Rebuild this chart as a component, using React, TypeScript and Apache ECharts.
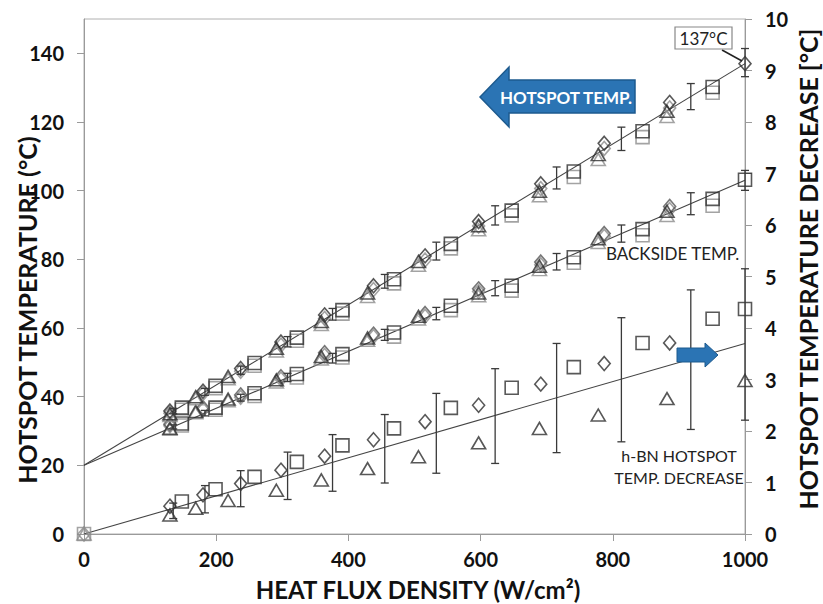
import React, { useEffect, useRef } from "react";
import * as echarts from "echarts";

// ---------- data ----------
const xTicks = [0, 200, 400, 600, 800, 1000];

// heat flux positions of each marker family
const qSquare = [148, 199, 258, 322, 391, 469, 555, 647, 741, 845, 951];
const qDiamond = [130, 180, 237, 298, 364, 438, 516, 597, 691, 787, 886];
const qTriangle = [130, 169, 218, 291, 359, 429, 506, 597, 689, 778, 882];

// hotspot temperature (left axis)
const hotSqBlack = [36.8, 43.2, 49.8, 57.2, 65.2, 74.2, 84.5, 94.2, 105.6, 117.3, 130.2];
const hotSqGray = [36.2, 42.5, 49.0, 56.3, 64.2, 73.0, 83.2, 92.8, 104.0, 115.6, 128.5];
const qHotDiBlack = [130, 180, 237, 298, 364, 438, 516, 597, 691, 787, 886, 1000];
const hotDiBlack = [35.8, 41.6, 48.2, 55.9, 63.8, 72.3, 81.0, 91.0, 102.0, 113.8, 125.7, 137.0];
const hotDiGray = [35.2, 40.9, 47.4, 55.0, 62.8, 71.2, 79.8, 89.7, 100.6, 112.3, 124.1];
const hotTriBlack = [35.0, 40.0, 45.9, 54.1, 61.9, 70.2, 79.4, 89.8, 99.8, 110.5, 123.1];
const hotTriGray = [34.5, 39.4, 45.2, 53.3, 61.0, 69.2, 78.3, 88.6, 98.5, 109.1, 121.6];

// backside temperature (left axis)
const qBsSqBlack = [148, 199, 258, 322, 391, 469, 555, 647, 741, 845, 951, 1000];
const bsSqBlack = [32.2, 36.8, 41.0, 46.6, 52.4, 58.7, 66.5, 72.3, 80.6, 88.8, 97.6, 103.2];
const bsSqGray = [31.6, 36.2, 40.2, 45.6, 51.4, 57.5, 65.2, 70.9, 79.0, 87.0, 95.6];
const bsDiBlack = [32.0, 36.8, 40.5, 45.8, 52.8, 58.2, 64.2, 71.4, 79.2, 87.5, 95.4];
const bsDiGray = [31.5, 36.2, 39.8, 45.1, 52.0, 57.5, 63.4, 70.6, 78.4, 86.7, 94.5];
const bsTriBlack = [30.8, 35.7, 39.3, 44.9, 51.7, 57.1, 63.4, 70.2, 78.0, 86.0, 94.0];
const bsTriGray = [30.5, 35.3, 38.8, 44.3, 51.0, 56.4, 62.6, 69.4, 77.0, 84.9, 92.8];

// hotspot temperature decrease (right axis)
const qDecSq = [0, 148, 199, 258, 322, 391, 469, 555, 647, 741, 845, 951, 1000];
const decSq = [0, 0.63, 0.87, 1.11, 1.4, 1.72, 2.05, 2.45, 2.84, 3.24, 3.71, 4.18, 4.37];
const qDecDi = [0, 130, 180, 237, 298, 364, 438, 516, 597, 691, 787, 886];
const decDi = [0, 0.54, 0.76, 0.98, 1.24, 1.51, 1.83, 2.18, 2.5, 2.91, 3.31, 3.71];
const qDecTri = [0, 130, 169, 218, 291, 359, 429, 506, 597, 689, 778, 882, 1000];
const decTri = [0, 0.37, 0.5, 0.65, 0.85, 1.05, 1.27, 1.5, 1.77, 2.05, 2.31, 2.63, 2.98];

// fitted lines (end points)
const hotFitQ = [0, 1000];
const hotFit = [20, 137];
const bsFitQ = [0, 1000];
const bsFit = [20, 103];
const decFitQ = [0, 1000];
const decFit = [0, 3.7];

// error bars
const errQ = [135, 183, 237, 308, 376, 455, 533, 622, 715, 813, 918, 1000];
const hotErrLow = [35.0, 40.4, 46.5, 54.5, 62.3, 71.6, 79.8, 90.0, 100.5, 111.7, 123.6, 133.2];
const hotErrHigh = [36.6, 42.4, 48.9, 57.5, 65.7, 75.6, 85.0, 95.6, 106.9, 118.5, 131.2, 141.4];
const bsErrLow = [30.6, 34.4, 38.7, 44.4, 49.8, 56.4, 62.4, 69.4, 76.9, 85.0, 93.0, 100.1];
const bsErrHigh = [31.8, 36.0, 40.7, 46.8, 52.6, 59.6, 66.0, 73.8, 81.7, 90.0, 99.4, 105.9];
const decErrLow = [0.3, 0.41, 0.53, 0.67, 0.83, 0.99, 1.18, 1.37, 1.58, 1.79, 2.03, 2.21];
const decErrHigh = [0.6, 0.94, 1.23, 1.59, 1.93, 2.32, 2.73, 3.21, 3.7, 4.2, 4.74, 5.15];

// ---------- helpers ----------
const FONT = "Lato, 'Open Sans', sans-serif";
const DARK = "#2e2e2e";
const GRAY = "#8c8c8c";

const pairs = (q: number[], v: number[]) => q.map((x, i) => [x, v[i]]);
const triples = (q: number[], lo: number[], hi: number[]) => q.map((x, i) => [x, lo[i], hi[i]]);

function scatter(name: string, data: any[], symbol: string, color: string, yAxisIndex = 0, z = 3) {
  const size = symbol === "rect" ? 13 : symbol === "diamond" ? [12, 14] : [14, 12];
  return {
    type: "scatter",
    name,
    yAxisIndex,
    data,
    symbol,
    symbolSize: size,
    z,
    itemStyle: { color: "rgba(0,0,0,0)", borderColor: color, borderWidth: 1.6 },
    emphasis: { disabled: true },
  };
}

function fitLine(name: string, q: number[], v: number[], yAxisIndex = 0) {
  return {
    type: "line",
    name,
    yAxisIndex,
    data: pairs(q, v),
    symbol: "none",
    z: 2,
    lineStyle: { color: "#444", width: 1.1 },
  };
}

function errorBars(name: string, q: number[], lo: number[], hi: number[], yAxisIndex = 0) {
  return {
    type: "custom",
    name,
    yAxisIndex,
    data: triples(q, lo, hi),
    encode: { x: 0, y: [1, 2] },
    z: 4,
    renderItem: (params: any, api: any) => {
      const x = api.value(0);
      const p1 = api.coord([x, api.value(1)]);
      const p2 = api.coord([x, api.value(2)]);
      const cap = 4;
      const style = { stroke: "#3a3a3a", lineWidth: 1.3 };
      return {
        type: "group",
        children: [
          { type: "line", shape: { x1: p1[0], y1: p1[1], x2: p2[0], y2: p2[1] }, style },
          { type: "line", shape: { x1: p1[0] - cap, y1: p1[1], x2: p1[0] + cap, y2: p1[1] }, style },
          { type: "line", shape: { x1: p2[0] - cap, y1: p2[1], x2: p2[0] + cap, y2: p2[1] }, style },
        ],
      };
    },
  };
}

function decData(q: number[], v: number[]) {
  return q.map((x, i) =>
    x === 0 ? { value: [x, v[i]], itemStyle: { borderColor: GRAY } } : [x, v[i]]
  );
}

export default function App() {
  const ref = useRef<HTMLDivElement>(null);

  useEffect(() => {
    if (!ref.current) return;
    const chart = echarts.init(ref.current, null, { renderer: "svg" });
    const axisLine = { show: true, lineStyle: { color: "#9a9a9a", width: 1 } };
    const axisTick = { show: true, inside: false, length: 7, lineStyle: { color: "#9a9a9a" } };
    const axisLabel = {
      color: "#111",
      fontSize: 20,
      fontWeight: "bold",
      fontFamily: FONT,
      formatter: (v: number) => String(v),
    };

    const option: any = {
      animation: false,
      backgroundColor: "#ffffff",
      grid: { left: 84, right: 78, top: 19, bottom: 70, show: true, borderColor: "#b0b0b0", borderWidth: 1 },
      xAxis: {
        type: "value",
        min: xTicks[0],
        max: xTicks[xTicks.length - 1],
        interval: 200,
        axisLine,
        axisTick,
        splitLine: { show: false },
        axisLabel: { ...axisLabel, margin: 15 },
      },
      yAxis: [
        {
          type: "value",
          min: 0,
          max: 150,
          interval: 20,
          position: "left",
          axisLine,
          axisTick,
          splitLine: { show: false },
          axisLabel: { ...axisLabel, margin: 20, showMaxLabel: false },
        },
        {
          type: "value",
          min: 0,
          max: 10,
          interval: 1,
          position: "right",
          axisLine,
          axisTick,
          splitLine: { show: false },
          axisLabel: { ...axisLabel, margin: 20 },
        },
      ],
      series: [
        fitLine("hotFit", hotFitQ, hotFit),
        fitLine("bsFit", bsFitQ, bsFit),
        fitLine("decFit", decFitQ, decFit, 1),
        // backside temperature
        scatter("bsSqGray", pairs(qSquare, bsSqGray), "rect", GRAY),
        scatter("bsDiGray", pairs(qDiamond, bsDiGray), "diamond", GRAY),
        scatter("bsTriGray", pairs(qTriangle, bsTriGray), "triangle", GRAY),
        scatter("bsSqBlack", pairs(qBsSqBlack, bsSqBlack), "rect", DARK),
        scatter("bsDiBlack", pairs(qDiamond, bsDiBlack), "diamond", "#555"),
        scatter("bsTriBlack", pairs(qTriangle, bsTriBlack), "triangle", DARK),
        // hotspot temperature
        scatter("hotSqGray", pairs(qSquare, hotSqGray), "rect", GRAY),
        scatter("hotDiGray", pairs(qDiamond, hotDiGray), "diamond", GRAY),
        scatter("hotTriGray", pairs(qTriangle, hotTriGray), "triangle", GRAY),
        scatter("hotSqBlack", pairs(qSquare, hotSqBlack), "rect", DARK),
        scatter("hotDiBlack", pairs(qHotDiBlack, hotDiBlack), "diamond", DARK),
        scatter("hotTriBlack", pairs(qTriangle, hotTriBlack), "triangle", DARK),
        // decrease
        scatter("decSq", decData(qDecSq, decSq), "rect", DARK, 1),
        scatter("decDi", decData(qDecDi, decDi), "diamond", DARK, 1),
        scatter("decTri", decData(qDecTri, decTri), "triangle", DARK, 1),
        // error bars
        errorBars("hotErr", errQ, hotErrLow, hotErrHigh),
        errorBars("bsErr", errQ, bsErrLow, bsErrHigh),
        errorBars("decErr", errQ, decErrLow, decErrHigh, 1),
      ],
      graphic: [
        // axis titles
        {
          type: "text",
          x: 27,
          y: 310,
          rotation: Math.PI / 2,
          z: 100,
          style: {
            text: "HOTSPOT TEMPERATURE (°C)",
            align: "center",
            verticalAlign: "middle",
            font: `bold 25px ${FONT}`,
            fill: "#111",
          },
        },
        {
          type: "text",
          x: 808,
          y: 269,
          rotation: Math.PI / 2,
          z: 100,
          style: {
            text: "HOTSPOT TEMPERATURE DECREASE [°C]",
            align: "center",
            verticalAlign: "middle",
            font: `bold 25px ${FONT}`,
            fill: "#111",
          },
        },
        {
          type: "text",
          x: 418,
          y: 589,
          z: 100,
          style: {
            text: "HEAT FLUX DENSITY (W/cm²)",
            align: "center",
            verticalAlign: "middle",
            font: `bold 24px ${FONT}`,
            fill: "#111",
          },
        },
        // big arrow
        {
          type: "polygon",
          z: 90,
          shape: {
            points: [
              [480, 97],
              [509, 67],
              [509, 80],
              [635, 80],
              [635, 113],
              [509, 113],
              [509, 127],
            ],
          },
          style: { fill: "#2b74b4", stroke: "#1d5a8e", lineWidth: 1.5 },
        },
        {
          type: "text",
          x: 566,
          y: 97,
          z: 95,
          style: {
            text: "HOTSPOT TEMP.",
            align: "center",
            verticalAlign: "middle",
            font: `bold 17px ${FONT}`,
            fill: "#ffffff",
          },
        },
        // small arrow
        {
          type: "polygon",
          z: 90,
          shape: {
            points: [
              [677, 348],
              [705, 348],
              [705, 343],
              [718, 355],
              [705, 367],
              [705, 362],
              [677, 362],
            ],
          },
          style: { fill: "#2b74b4", stroke: "#1d5a8e", lineWidth: 1 },
        },
        // 137°C callout
        {
          type: "line",
          z: 90,
          shape: { x1: 722, y1: 50, x2: 742, y2: 61 },
          style: { stroke: "#222", lineWidth: 1.5 },
        },
        {
          type: "rect",
          z: 91,
          shape: { x: 675, y: 27, width: 57, height: 22 },
          style: { fill: "#ffffff", stroke: "#888", lineWidth: 1.2 },
        },
        {
          type: "text",
          x: 703.5,
          y: 38.5,
          z: 92,
          style: {
            text: "137°C",
            align: "center",
            verticalAlign: "middle",
            font: `17px ${FONT}`,
            fill: "#222",
          },
        },
        {
          type: "text",
          x: 606,
          y: 253,
          z: 92,
          style: {
            text: "BACKSIDE TEMP.",
            align: "left",
            verticalAlign: "middle",
            font: `17px ${FONT}`,
            fill: "#222",
          },
        },
        {
          type: "text",
          x: 679,
          y: 466,
          z: 92,
          style: {
            text: "h-BN HOTSPOT\nTEMP. DECREASE",
            align: "center",
            verticalAlign: "middle",
            lineHeight: 22,
            font: `16px ${FONT}`,
            fill: "#222",
          },
        },
      ],
    };
    chart.setOption(option);
    return () => chart.dispose();
  }, []);

  return (
    <div
      ref={ref}
      style={{ position: "fixed", left: 0, top: 0, width: 823, height: 604, background: "#fff" }}
    />
  );
}
